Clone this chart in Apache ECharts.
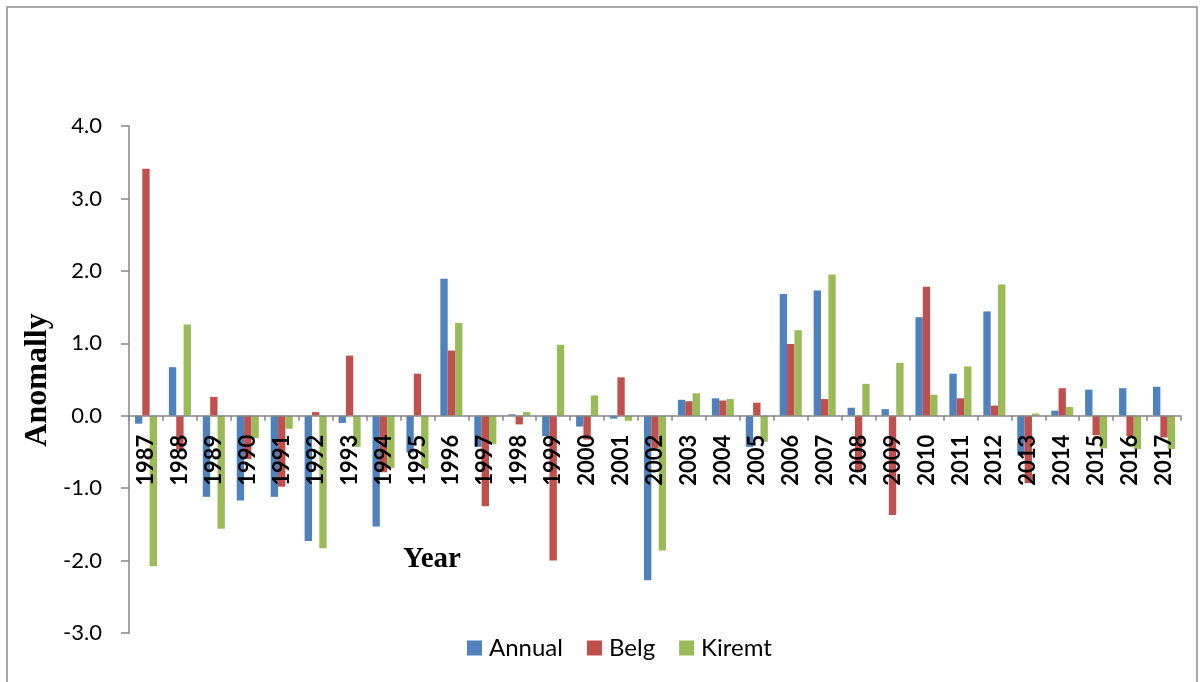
<!DOCTYPE html>
<html>
<head>
<meta charset="utf-8">
<script src="https://cdn.jsdelivr.net/npm/echarts@6/dist/echarts.min.js"></script>
<style>
  html, body { margin: 0; padding: 0; background: #fff; }
  #chart { width: 1204px; height: 682px; }
</style>
</head>
<body>
<div id="chart"></div>
<script>
// Rainfall anomaly by year, three seasons
const years = ['1987','1988','1989','1990','1991','1992','1993','1994','1995','1996',
  '1997','1998','1999','2000','2001','2002','2003','2004','2005','2006',
  '2007','2008','2009','2010','2011','2012','2013','2014','2015','2016','2017'];

const annual = [-0.11, 0.67, -1.12, -1.17, -1.12, -1.73, -0.10, -1.53, -0.51, 1.89,
  -0.43, 0.02, -0.28, -0.15, -0.04, -2.27, 0.22, 0.24, -0.43, 1.68,
  1.73, 0.11, 0.09, 1.36, 0.58, 1.44, -0.55, 0.07, 0.36, 0.38, 0.40];

const belg = [3.41, -0.47, 0.26, -0.60, -0.98, 0.05, 0.83, -0.78, 0.58, 0.90,
  -1.25, -0.12, -2.00, -0.33, 0.53, -0.45, 0.20, 0.21, 0.18, 0.99,
  0.23, -0.75, -1.37, 1.78, 0.24, 0.14, -0.93, 0.38, -0.27, -0.28, -0.30];

const kiremt = [-2.08, 1.26, -1.56, -0.31, -0.18, -1.83, -0.43, -0.72, -0.73, 1.28,
  -0.39, 0.05, 0.98, 0.28, -0.07, -1.86, 0.31, 0.23, -0.36, 1.18,
  1.95, 0.44, 0.73, 0.29, 0.68, 1.81, 0.03, 0.12, -0.45, -0.46, -0.46];

const seriesNames = ['Annual', 'Belg', 'Kiremt'];
const colors = ['#4F81BD', '#C0504D', '#9BBB59'];

const axisGray = '#868686';

const chart = echarts.init(document.getElementById('chart'), null, { renderer: 'canvas' });

chart.setOption({
  animation: false,
  color: colors,
  grid: {
    left: 129, right: 23, top: 126, bottom: 49,
    containLabel: false,
    outerBoundsMode: 'none'
  },
  legend: {
    data: seriesNames,
    bottom: 17,
    left: 462,
    itemWidth: 15,
    itemHeight: 15,
    itemGap: 24,
    icon: 'rect',
    textStyle: { fontFamily: 'Lato', fontSize: 24, color: '#000', padding: [0, 0, 0, 2] }
  },
  xAxis: {
    type: 'category',
    data: years,
    z: 10,
    axisLine: { onZero: true, onZeroAxisIndex: 0, lineStyle: { color: axisGray, width: 1.5 } },
    axisTick: { show: true, length: 5, lineStyle: { color: axisGray, width: 1.5 } },
    axisLabel: {
      rotate: 90,
      interval: 0,
      margin: 19,
      hideOverlap: false,
      fontFamily: 'Lato',
      fontWeight: 'bold',
      fontSize: 22,
      color: '#000'
    },
    splitLine: { show: false }
  },
  yAxis: {
    type: 'value',
    min: -3,
    max: 4,
    interval: 1,
    axisLine: { show: true, onZero: false, lineStyle: { color: axisGray, width: 1.5 } },
    axisTick: { show: true, length: 8, lineStyle: { color: axisGray, width: 1.5 } },
    axisLabel: {
      margin: 27,
      fontFamily: 'Lato',
      fontSize: 22,
      color: '#000',
      formatter: v => v.toFixed(1)
    },
    splitLine: { show: false }
  },
  series: [
    { name: seriesNames[0], type: 'bar', data: annual, barGap: '0%', barCategoryGap: '35%' },
    { name: seriesNames[1], type: 'bar', data: belg, barGap: '0%', barCategoryGap: '35%' },
    { name: seriesNames[2], type: 'bar', data: kiremt, barGap: '0%', barCategoryGap: '35%' }
  ],
  graphic: [
    {
      type: 'rect',
      shape: { x: 7, y: 7, width: 1190, height: 690 },
      style: { fill: 'none', stroke: '#8c8c8c', lineWidth: 1.5 },
      silent: true
    },
    {
      type: 'text',
      x: 38,
      y: 380,
      rotation: Math.PI / 2,
      style: {
        text: 'Anomally',
        font: 'bold 32px "Liberation Serif"',
        fill: '#000',
        align: 'center',
        verticalAlign: 'middle'
      }
    },
    {
      type: 'text',
      x: 432,
      y: 560,
      style: {
        text: 'Year',
        font: 'bold 29px "Liberation Serif"',
        fill: '#000',
        align: 'center',
        verticalAlign: 'middle'
      }
    }
  ]
});

// Keep the category axis on the zero line of the value axis
const yZero = chart.convertToPixel({ yAxisIndex: 0 }, 0);
const rect = chart.getModel().getComponent('grid', 0).coordinateSystem.getRect();
const bottomEdge = rect.y + rect.height;
chart.setOption({ xAxis: { axisLine: { onZero: false }, offset: yZero - bottomEdge } });
</script>
</body>
</html>
